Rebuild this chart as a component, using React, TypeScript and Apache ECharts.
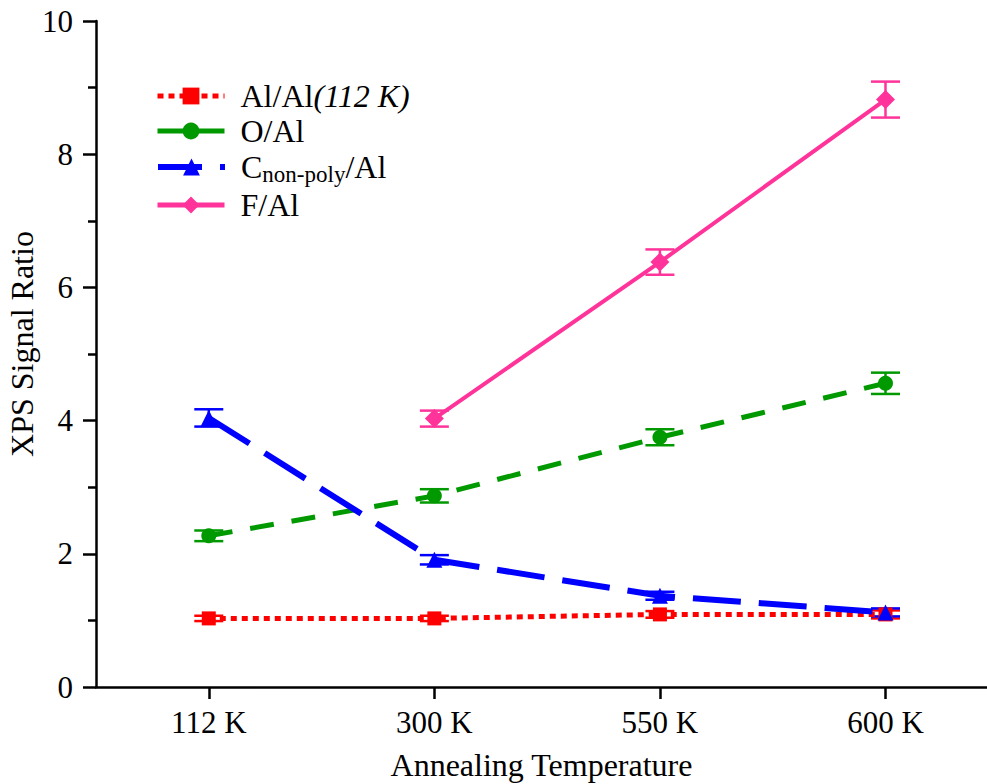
import React, { useEffect, useRef } from "react";
import * as echarts from "echarts";

// Annealing temperatures (category positions 0..3 on a value axis)
const categories = ["112 K", "300 K", "550 K", "600 K"];

// XPS signal ratios: [categoryIndex, value]
const alAl: [number, number][] = [[0, 1.03], [1, 1.03], [2, 1.09], [3, 1.09]];
const oAl: [number, number][] = [[0, 2.27], [1, 2.87], [2, 3.75], [3, 4.56]];
const cAl: [number, number][] = [[0, 4.04], [1, 1.91], [2, 1.37], [3, 1.12]];
const fAl: [number, number][] = [[1, 4.03], [2, 6.38], [3, 8.82]];

// Error bar half-widths, same order as the values above
const alAlErr = [0.04, 0.04, 0.05, 0.06];
const oAlErr = [0.08, 0.1, 0.12, 0.16];
const cAlErr = [0.13, 0.07, 0.06, 0.06];
const fAlErr = [0.12, 0.19, 0.27];

const FONT = "'Liberation Serif', 'Times New Roman', 'DejaVu Serif', serif";
const RED = "#ff0000";
const GREEN = "#009900";
const BLUE = "#0000ff";
const PINK = "#ff3399";

function errData(pts: [number, number][], errs: number[]) {
  return pts.map((p, i) => [p[0], p[1] - errs[i], p[1] + errs[i]]);
}

function errorBarSeries(name: string, pts: [number, number][], errs: number[], color: string) {
  return {
    type: "custom",
    name: name + "-err",
    z: 1,
    silent: true,
    data: errData(pts, errs),
    encode: { x: 0, y: [1, 2] },
    renderItem: (_params: any, api: any) => {
      const x = api.value(0);
      const lo = api.coord([x, api.value(1)]);
      const hi = api.coord([x, api.value(2)]);
      const hw = 14.5;
      const style = { stroke: color, lineWidth: 2.5 };
      return {
        type: "group",
        children: [
          { type: "line", shape: { x1: lo[0], y1: lo[1], x2: hi[0], y2: hi[1] }, style },
          { type: "line", shape: { x1: lo[0] - hw, y1: lo[1], x2: lo[0] + hw, y2: lo[1] }, style },
          { type: "line", shape: { x1: hi[0] - hw, y1: hi[1], x2: hi[0] + hw, y2: hi[1] }, style },
        ],
      };
    },
  };
}

const richText = {
  n: { fontFamily: FONT, fontSize: 32, color: "#000" },
  i: { fontFamily: FONT, fontSize: 32, color: "#000", fontStyle: "italic" },
  s: { fontFamily: FONT, fontSize: 23, color: "#000", verticalAlign: "bottom", padding: [15, 0, 0, 0] },
};

function legendFor(name: string, top: number, label: string, lineWidth: number, lineType: any) {
  return {
    data: [name],
    left: 155,
    top,
    itemWidth: 67,
    itemHeight: 21,
    itemGap: 0,
    padding: 0,
    lineStyle: { width: lineWidth, type: lineType },
    formatter: () => label,
    textStyle: { fontFamily: FONT, fontSize: 32, color: "#000", padding: [0, 0, 0, 11], rich: richText },
  };
}

export default function App() {
  const ref = useRef<HTMLDivElement>(null);

  useEffect(() => {
    if (!ref.current) return;
    const chart = echarts.init(ref.current, null, { renderer: "svg" });
    const axisStroke = { color: "#000", width: 2.5 };
    chart.setOption({
      animation: false,
      backgroundColor: "#fff",
      textStyle: { fontFamily: FONT },
      grid: { left: 96, right: 0, top: 21, bottom: 97, containLabel: false, outerBoundsMode: "none" },
      legend: [
        legendFor("Al/Al", 80, "{n|Al/Al}{i|(112 K)}", 5, [6, 5]),
        legendFor("O/Al", 115, "{n|O/Al}", 5, "solid"),
        legendFor("C/Al", 151, "{n|C}{s|non-poly}{n|/Al}", 6, [44, 18]),
        legendFor("F/Al", 189, "{n|F/Al}", 5, "solid"),
      ],
      xAxis: {
        type: "value",
        min: -0.5,
        max: 3.45,
        name: "Annealing Temperature",
        nameLocation: "middle",
        nameGap: 62,
        nameTextStyle: { fontFamily: FONT, fontSize: 32, color: "#000" },
        axisLine: { show: true, onZero: false, lineStyle: axisStroke },
        axisTick: { show: true, length: 12, lineStyle: axisStroke, customValues: [0, 1, 2, 3] },
        axisLabel: {
          customValues: [0, 1, 2, 3],
          formatter: (v: number) => categories[Math.round(v)] ?? "",
          fontFamily: FONT,
          fontSize: 31,
          color: "#000",
          margin: 20,
        },
        splitLine: { show: false },
      },
      yAxis: {
        type: "value",
        min: 0,
        max: 10,
        interval: 2,
        name: "XPS Signal Ratio",
        nameLocation: "middle",
        nameGap: 58,
        nameMoveOverlap: false,
        nameTextStyle: { fontFamily: FONT, fontSize: 32, color: "#000", padding: [0, 0, 0, 20] },
        axisLine: { show: true, onZero: false, lineStyle: axisStroke },
        axisTick: { show: true, length: 13, lineStyle: axisStroke },
        minorTick: { show: true, splitNumber: 2, length: 8, lineStyle: axisStroke },
        axisLabel: { fontFamily: FONT, fontSize: 31, color: "#000", margin: 23 },
        splitLine: { show: false },
      },
      series: [
        errorBarSeries("Al/Al", alAl, alAlErr, RED),
        errorBarSeries("O/Al", oAl, oAlErr, GREEN),
        errorBarSeries("C/Al", cAl, cAlErr, BLUE),
        errorBarSeries("F/Al", fAl, fAlErr, PINK),
        {
          type: "line",
          name: "Al/Al",
          data: alAl,
          z: 3,
          symbol: "rect",
          symbolSize: 14,
          itemStyle: { color: RED },
          lineStyle: { color: RED, width: 5, type: [6, 5] },
        },
        {
          type: "line",
          name: "O/Al",
          data: oAl,
          z: 3,
          symbol: "circle",
          symbolSize: 15,
          itemStyle: { color: GREEN },
          lineStyle: { color: GREEN, width: 5, type: [24, 18] },
        },
        {
          type: "line",
          name: "C/Al",
          data: cAl,
          z: 4,
          symbol: "triangle",
          symbolSize: 16,
          itemStyle: { color: BLUE },
          lineStyle: { color: BLUE, width: 6, type: [48, 18] },
        },
        {
          type: "line",
          name: "F/Al",
          data: fAl,
          z: 4,
          symbol: "diamond",
          symbolSize: 19,
          itemStyle: { color: PINK },
          lineStyle: { color: PINK, width: 4 },
        },
      ],
    });
    return () => chart.dispose();
  }, []);

  return <div ref={ref} style={{ width: 987, height: 784, position: "absolute", left: 0, top: 0 }} />;
}
